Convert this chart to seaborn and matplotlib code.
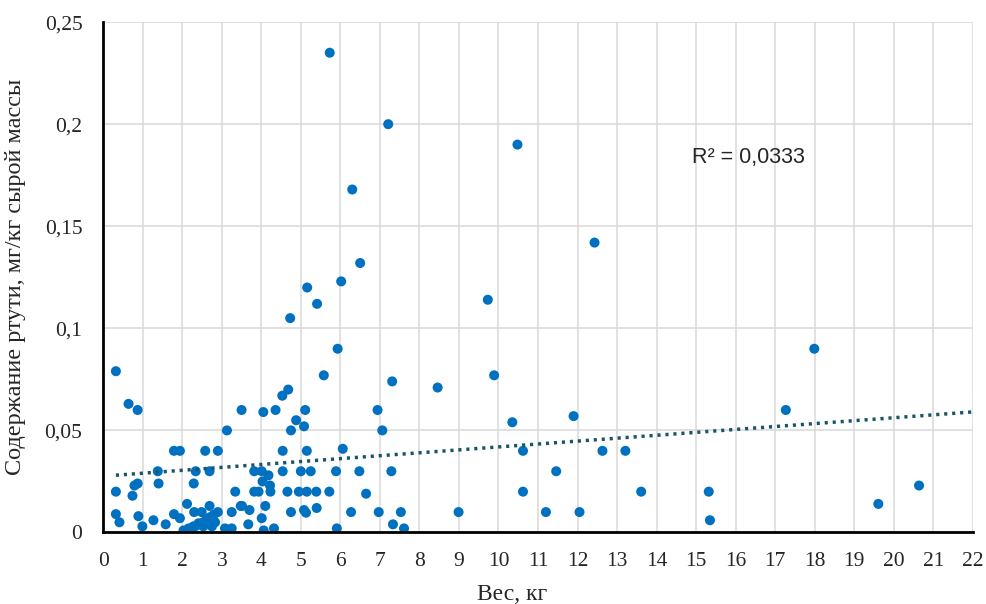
import numpy as np
import pandas as pd
import matplotlib
matplotlib.use("Agg")
import matplotlib.pyplot as plt
import seaborn as sns

# вес рыбы, кг
weight = [0.32, 0.64, 0.87, 0.32, 0.32, 0.41, 0.74, 0.79, 0.87, 0.89, 0.99, 1.27, 1.58,
          1.38, 1.40, 1.79, 1.94, 1.79, 1.94, 2.12, 2.29, 2.34, 2.69, 2.69, 2.58, 2.90,
          3.13, 3.34, 3.25, 3.48, 3.08, 3.25,
          2.03, 2.16, 2.28, 2.41, 2.53, 2.62, 2.70, 2.79, 2.83, 2.75, 2.90, 2.53, 2.32,
          2.30, 2.49,
          3.50, 4.05, 4.36, 4.53, 4.68, 5.58, 7.31, 5.11, 4.88, 5.08, 4.75, 6.94, 7.06,
          4.54, 5.15, 6.06, 3.82, 4.01, 4.18, 4.03, 4.22, 4.54, 5.00, 5.25, 5.89, 6.48,
          7.29, 3.82, 3.93, 4.23, 4.66, 4.95, 5.15, 5.39, 5.72, 6.65, 3.51, 3.70, 4.10,
          4.01, 4.75, 5.08, 5.13, 5.40, 6.27, 6.97, 7.53, 3.67, 4.06, 4.32, 5.91, 7.33,
          7.61,
          5.73, 7.21, 6.30, 6.50, 6.02, 5.16, 5.41, 4.73, 5.93,
          10.48, 12.43, 9.73, 8.46, 9.89, 10.35, 11.90, 10.62, 12.63, 13.21, 11.46,
          10.62, 13.61, 8.99, 11.20, 12.05, 15.32, 15.35, 17.27, 17.99, 19.61, 20.64]

# содержание ртути, мг/кг
mercury = [0.079, 0.063, 0.060, 0.020, 0.009, 0.005, 0.018, 0.023, 0.024, 0.008, 0.003,
           0.006, 0.004, 0.030, 0.024, 0.040, 0.040, 0.009, 0.007, 0.014, 0.024, 0.030,
           0.030, 0.013, 0.040, 0.040, 0.050, 0.020, 0.010, 0.013, 0.002, 0.002,
           0.001, 0.002, 0.003, 0.0045, 0.005, 0.0065, 0.0075, 0.0086, 0.005, 0.003,
           0.010, 0.003, 0.003, 0.010, 0.010,
           0.060, 0.059, 0.060, 0.067, 0.070, 0.077, 0.074, 0.060, 0.055, 0.052, 0.050,
           0.060, 0.050, 0.040, 0.040, 0.041, 0.030, 0.030, 0.028, 0.025, 0.023, 0.030,
           0.030, 0.030, 0.030, 0.030, 0.030, 0.020, 0.020, 0.020, 0.020, 0.020, 0.020,
           0.020, 0.020, 0.019, 0.013, 0.011, 0.013, 0.007, 0.010, 0.011, 0.0097, 0.012,
           0.010, 0.010, 0.010, 0.004, 0.001, 0.002, 0.002, 0.004, 0.002,
           0.235, 0.200, 0.168, 0.132, 0.123, 0.120, 0.112, 0.105, 0.090,
           0.190, 0.142, 0.114, 0.071, 0.077, 0.054, 0.057, 0.040, 0.040, 0.040, 0.030,
           0.020, 0.020, 0.010, 0.010, 0.010, 0.020, 0.006, 0.060, 0.090, 0.014, 0.023]

# линия тренда (excel)
trend_x = [0.32, 22]
trend_intercept = 0.0276
trend_slope = 0.00143

x_ticks = list(range(0, 23))
y_ticks = [0, 0.05, 0.1, 0.15, 0.2, 0.25]
y_ticklabels = ["0", "0,05", "0,1", "0,15", "0,2", "0,25"]
r2_label = "R² = 0,0333"

df = pd.DataFrame({"weight": weight, "mercury": mercury})
trend = pd.DataFrame({"weight": trend_x})
trend["mercury"] = trend_intercept + trend_slope * trend.weight

sns.set_style("white")
plt.rcParams['font.family'] = ['Liberation Serif', 'DejaVu Serif']

fig = plt.figure(figsize=(9.87, 6.04), dpi=100)
ax = fig.add_axes([0.1046, 0.1184, 0.881, 0.845])

sns.scatterplot(data=df, x="weight", y="mercury", ax=ax, color="#0070C0",
                s=52, edgecolor="none", zorder=3)
sns.lineplot(data=trend, x="weight", y="mercury", ax=ax, color="#1B5468",
             linewidth=2.5, linestyle=(0, (0.9, 1.4)), zorder=4)

ax.set_xlim(0, 22)
ax.set_ylim(0, 0.25)
ax.set_xticks(x_ticks)
ax.set_xticklabels([str(t) for t in x_ticks], fontsize=15.5)
ax.set_yticks(y_ticks)
ax.set_yticklabels(y_ticklabels, fontsize=15.5)
ax.tick_params(axis="x", length=0, pad=14)
ax.tick_params(axis="y", length=0, pad=15)
ax.grid(True, color="#D9D9D9", linewidth=1.1)
ax.set_axisbelow(True)

for s in ["top", "right"]:
    ax.spines[s].set_visible(False)
for s in ["left", "bottom"]:
    ax.spines[s].set_color("black")
    ax.spines[s].set_linewidth(2)
    ax.spines[s].set_zorder(5)

ax.set_xlabel("Вес, кг", fontsize=17)
ax.xaxis.set_label_coords(0.47, -0.1)
ax.set_ylabel("Содержание ртути, мг/кг сырой массы", fontsize=17.5)
ax.yaxis.set_label_coords(-0.089, 0.5)

ax.text(14.9, 0.1836, r2_label, fontsize=15.5, family="Liberation Sans",
        va="center", ha="left")

fig.savefig("out.png", dpi=100)
